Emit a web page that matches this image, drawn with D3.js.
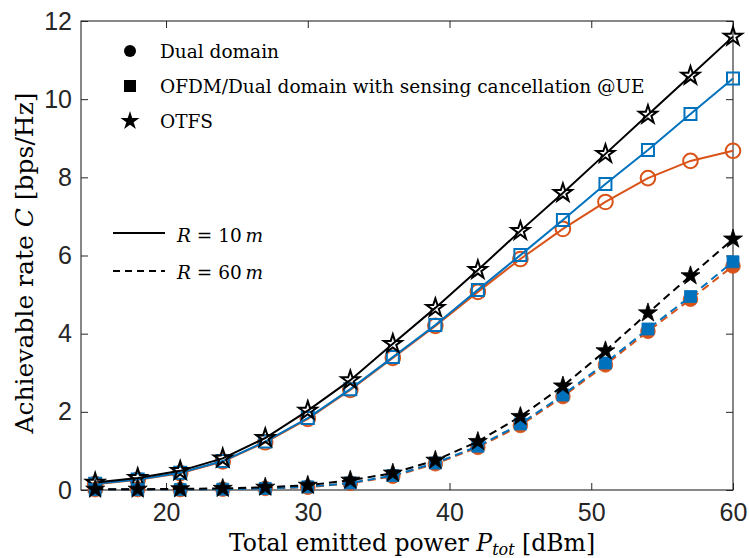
<!DOCTYPE html>
<html>
<head>
<meta charset="utf-8">
<script src="https://cdn.jsdelivr.net/npm/d3@7"></script>
<style>
  html, body { margin: 0; padding: 0; background: #fff; }
  svg { display: block; }
</style>
</head>
<body>
<svg id="chart" width="749" height="558"></svg>
<script>
// Total emitted power (dBm) sampled every 3 dB
const powerDbm = [15, 18, 21, 24, 27, 30, 33, 36, 39, 42, 45, 48, 51, 54, 57, 60];

// Achievable rate (bps/Hz), radar distance R = 10 m
const dual10 = [0.15, 0.26, 0.43, 0.73, 1.22, 1.82, 2.56, 3.38, 4.20, 5.07, 5.91, 6.68, 7.37, 7.98, 8.42, 8.68];
const ofdm10 = [0.16, 0.27, 0.44, 0.74, 1.24, 1.84, 2.58, 3.40, 4.22, 5.12, 6.01, 6.91, 7.83, 8.70, 9.62, 10.53];
const otfs10 = [0.19, 0.31, 0.49, 0.81, 1.33, 2.03, 2.81, 3.74, 4.66, 5.63, 6.63, 7.60, 8.60, 9.60, 10.60, 11.60];

// Achievable rate (bps/Hz), radar distance R = 60 m
const dual60 = [0.01, 0.01, 0.01, 0.02, 0.04, 0.07, 0.17, 0.35, 0.67, 1.09, 1.65, 2.39, 3.20, 4.06, 4.88, 5.73];
const ofdm60 = [0.01, 0.01, 0.01, 0.02, 0.04, 0.08, 0.18, 0.37, 0.69, 1.12, 1.69, 2.43, 3.25, 4.12, 4.95, 5.84];
const otfs60 = [0.02, 0.02, 0.03, 0.04, 0.07, 0.12, 0.25, 0.43, 0.76, 1.24, 1.88, 2.66, 3.56, 4.53, 5.48, 6.42];

const xTicks = [20, 30, 40, 50, 60];
const yTicks = [0, 2, 4, 6, 8, 10, 12];

const schemeNames = ["Dual domain", "OFDM/Dual domain with sensing cancellation @UE", "OTFS"];
const rangeNames = ["10", "60"];

const C_ORANGE = "#D95319", C_BLUE = "#0072BD", C_BLACK = "#000000", C_AXIS = "#262626";
const SERIF = "'DejaVu Serif', 'Liberation Serif', serif";
const SANS = "'Liberation Sans', Arial, Helvetica, sans-serif";

const svg = d3.select("#chart");
const plot = { left: 81, right: 733, top: 21, bottom: 490 };

const x = d3.scaleLinear().domain([14, 60]).range([plot.left, plot.right]);
const y = d3.scaleLinear().domain([0, 12]).range([plot.bottom, plot.top]);

// Axes box with inward ticks on all four sides
const axisG = svg.append("g");
const tickLen = 7;
const xAxisB = d3.axisBottom(x).tickValues(xTicks).tickSizeInner(-tickLen).tickSizeOuter(0).tickPadding(13);
const xAxisT = d3.axisTop(x).tickValues(xTicks).tickSizeInner(-tickLen).tickSizeOuter(0).tickFormat("");
const yAxisL = d3.axisLeft(y).tickValues(yTicks).tickSizeInner(-tickLen).tickSizeOuter(0).tickPadding(9);
const yAxisR = d3.axisRight(y).tickValues(yTicks).tickSizeInner(-tickLen).tickSizeOuter(0).tickFormat("");

function styleAxis(g) {
  g.select(".domain").remove();
  g.selectAll(".tick line").attr("stroke", C_AXIS).attr("stroke-width", 1);
  g.selectAll(".tick text").attr("fill", C_AXIS).style("font-family", SANS).style("font-size", "25px");
}
axisG.append("g").attr("transform", `translate(0,${plot.bottom})`).call(xAxisB).call(styleAxis);
axisG.append("g").attr("transform", `translate(0,${plot.top})`).call(xAxisT).call(styleAxis);
axisG.append("g").attr("transform", `translate(${plot.left},0)`).call(yAxisL).call(styleAxis);
axisG.append("g").attr("transform", `translate(${plot.right},0)`).call(yAxisR).call(styleAxis);
axisG.selectAll(".tick text").attr("font-size", null);
axisG.append("rect")
  .attr("x", plot.left).attr("y", plot.top)
  .attr("width", plot.right - plot.left).attr("height", plot.bottom - plot.top)
  .attr("fill", "none").attr("stroke", C_AXIS).attr("stroke-width", 1.1);

// Series definitions
const series = [
  { vals: dual10, color: C_ORANGE, shape: d3.symbolCircle, size: Math.PI * 7.3 * 7.3, filled: false, dash: null },
  { vals: ofdm10, color: C_BLUE, shape: d3.symbolSquare, size: 12 * 12, filled: false, dash: null },
  { vals: otfs10, color: C_BLACK, shape: d3.symbolStar, size: 9.5 * 9.5 / 0.8908, filled: false, dash: null },
  { vals: dual60, color: C_ORANGE, shape: d3.symbolCircle, size: Math.PI * 7.3 * 7.3, filled: true, dash: "8,5" },
  { vals: ofdm60, color: C_BLUE, shape: d3.symbolSquare, size: 12 * 12, filled: true, dash: "8,5" },
  { vals: otfs60, color: C_BLACK, shape: d3.symbolStar, size: 10 * 10 / 0.8908, filled: true, dash: "8,5" }
];

const line = d3.line().x((d, i) => x(powerDbm[i])).y(d => y(d));
const dataG = svg.append("g");

series.forEach(s => {
  const g = dataG.append("g");
  g.append("path")
    .datum(s.vals)
    .attr("d", line)
    .attr("fill", "none")
    .attr("stroke", s.color)
    .attr("stroke-width", 2)
    .attr("stroke-dasharray", s.dash);
  g.selectAll("path.mk")
    .data(s.vals)
    .join("path")
    .attr("class", "mk")
    .attr("transform", (d, i) => `translate(${x(powerDbm[i])},${y(d)})`)
    .attr("d", d3.symbol().type(s.shape).size(s.size))
    .attr("fill", s.filled ? s.color : "none")
    .attr("stroke", s.color)
    .attr("stroke-width", s.filled ? 0.8 : 2);
});

// Legend: marker shapes identify the waveform
const legG = svg.append("g");
const legRows = [
  { name: schemeNames[0], shape: d3.symbolCircle, size: Math.PI * 6 * 6, yMark: 51, yText: 58 },
  { name: schemeNames[1], shape: d3.symbolSquare, size: 12 * 12, yMark: 86, yText: 93 },
  { name: schemeNames[2], shape: d3.symbolStar, size: 10 * 10 / 0.8908, yMark: 121, yText: 128 }
];
legRows.forEach(r => {
  legG.append("path")
    .attr("transform", `translate(130,${r.yMark})`)
    .attr("d", d3.symbol().type(r.shape).size(r.size))
    .attr("fill", "#000");
  legG.append("text")
    .attr("x", 160).attr("y", r.yText)
    .style("font-family", SERIF).style("font-size", "18.5px")
    .attr("fill", "#000")
    .text(r.name);
});

// Legend: line style identifies the distance
const rangeRows = [
  { label: rangeNames[0], dash: null, yLine: 233, yText: 242 },
  { label: rangeNames[1], dash: "7,5", yLine: 271, yText: 279 }
];
rangeRows.forEach(r => {
  legG.append("line")
    .attr("x1", 113).attr("x2", 165).attr("y1", r.yLine).attr("y2", r.yLine)
    .attr("stroke", "#000").attr("stroke-width", 2)
    .attr("stroke-dasharray", r.dash);
  const t = legG.append("text")
    .attr("x", 177).attr("y", r.yText)
    .style("font-family", SERIF).style("font-size", "18.5px")
    .attr("fill", "#000");
  t.append("tspan").style("font-style", "italic").text("R");
  t.append("tspan").text(" = " + r.label + "\u2009");
  t.append("tspan").style("font-style", "italic").text("m");
});

// Axis titles
const xl = svg.append("text")
  .attr("x", 412).attr("y", 551)
  .attr("text-anchor", "middle")
  .style("font-family", SERIF).style("font-size", "23.5px")
  .attr("fill", "#000");
xl.append("tspan").text("Total emitted power ");
xl.append("tspan").style("font-style", "italic").text("P");
xl.append("tspan").style("font-style", "italic").style("font-size", "16px").attr("dy", 4).text("tot");
xl.append("tspan").attr("dy", -4).text(" [dBm]");

const yl = svg.append("text")
  .attr("transform", "translate(33,263) rotate(-90)")
  .attr("text-anchor", "middle")
  .style("font-family", SERIF).style("font-size", "25px")
  .attr("fill", "#000");
yl.append("tspan").text("Achievable rate ");
yl.append("tspan").style("font-style", "italic").text("C");
yl.append("tspan").text(" [bps/Hz]");
</script>
</body>
</html>
